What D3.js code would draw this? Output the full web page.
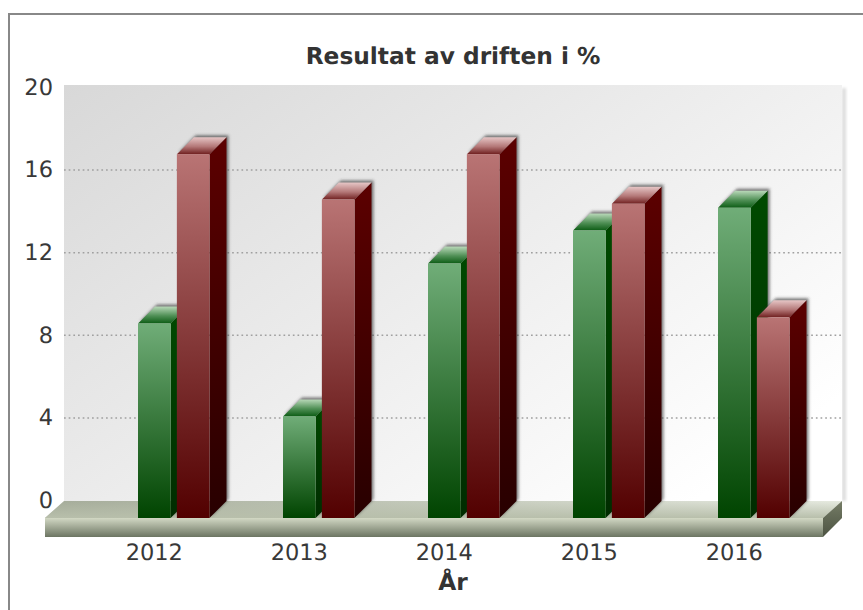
<!DOCTYPE html>
<html>
<head>
<meta charset="utf-8">
<script src="https://cdn.jsdelivr.net/npm/d3@7"></script>
<style>
html, body { margin: 0; padding: 0; background: #fff; }
svg { display: block; font-family: "DejaVu Sans", sans-serif; text-rendering: geometricPrecision; }
</style>
</head>
<body>
<div id="chart"></div>
<script>
const years = ["2012", "2013", "2014", "2015", "2016"];
const seriesNames = ["green", "red"];
const greenValues = [9.42, 4.92, 12.32, 13.92, 15.02];
const redValues = [17.62, 15.42, 17.62, 15.22, 9.72];
const yTicks = [0, 4, 8, 12, 16, 20];

const width = 863, height = 610;
const depth = 17;
const floorDrop = 18;

const svg = d3.select("#chart").append("svg")
    .attr("width", width)
    .attr("height", height);
const defs = svg.append("defs");

function gradient(id, stops, x2 = 0, y2 = 1) {
    const g = defs.append("linearGradient").attr("id", id)
        .attr("x1", 0).attr("y1", 0).attr("x2", x2).attr("y2", y2);
    stops.forEach(s => g.append("stop").attr("offset", s[0]).attr("stop-color", s[1]));
}
gradient("wall", [[0, "#d8d8d8"], [1, "#ffffff"]], 1, 0.75);
gradient("floor", [[0, "#a4ab99"], [1, "#e6eae0"]], 1, 0);
gradient("slab", [[0, "#d2d8c4"], [1, "#6c7562"]]);
gradient("slabSide", [[0, "#757c66"], [1, "#4c5342"]]);
gradient("greenFront", [[0, "#70ad78"], [1, "#004400"]]);
gradient("greenSide", [[0, "#004a00"], [1, "#002c00"]]);
gradient("greenTop", [[0, "#b8d8b8"], [0.55, "#4f8f55"], [1, "#0c5c14"]]);
gradient("redFront", [[0, "#b97474"], [1, "#520000"]]);
gradient("redSide", [[0, "#5c0000"], [1, "#280000"]]);
gradient("redTop", [[0, "#e6c6c6"], [0.55, "#b47878"], [1, "#702020"]]);

// floor fades to one colour towards the slab
const floorFade = defs.append("linearGradient").attr("id", "floorFade")
    .attr("x1", 0).attr("y1", 0).attr("x2", 0).attr("y2", 1);
floorFade.append("stop").attr("offset", 0).attr("stop-color", "#b8bfab").attr("stop-opacity", 0);
floorFade.append("stop").attr("offset", 1).attr("stop-color", "#b8bfab").attr("stop-opacity", 1);

defs.append("filter").attr("id", "blur")
    .attr("x", "-30%").attr("y", "-10%").attr("width", "160%").attr("height", "120%")
    .append("feGaussianBlur").attr("stdDeviation", 1.6);

// outer frame, runs off the right and bottom of the window
svg.append("rect")
    .attr("x", 9).attr("y", 14)
    .attr("width", 900).attr("height", 700)
    .attr("fill", "#fff").attr("stroke", "#888").attr("stroke-width", 2);

const y = d3.scaleLinear().domain([0, 20]).range([500, 87]);
const x = d3.scaleBand().domain(years).range([82.5, 807.5]).padding(0);
const xSeries = d3.scaleBand().domain(seriesNames).range([-17, 54.5]).paddingInner(0.16);

const wallLeft = 64, wallRight = 842, wallTop = 85;
const floorBack = y(0) + 1, floorFront = y(0) + floorDrop, slabBottom = floorFront + 19;
const slabLeft = wallLeft - 19, slabRight = wallRight - 19;

// wall
svg.append("rect")
    .attr("x", wallRight).attr("y", wallTop + 3)
    .attr("width", 4).attr("height", floorBack - wallTop - 3)
    .attr("fill", "#dcdcdc").attr("filter", "url(#blur)");
svg.append("rect")
    .attr("x", wallLeft).attr("y", wallTop)
    .attr("width", wallRight - wallLeft).attr("height", floorBack - wallTop)
    .attr("fill", "url(#wall)");

// grid lines
svg.append("g")
    .attr("transform", `translate(${wallLeft},0)`)
    .call(d3.axisRight(y).tickValues(yTicks.filter(d => d > 0 && d < 20))
        .tickSize(wallRight - wallLeft).tickFormat(""))
    .call(g => g.select(".domain").remove())
    .selectAll("line")
    .attr("stroke", "#a0a0a0").attr("stroke-width", 1.5).attr("stroke-dasharray", "1.7,2.97");

// floor
const floorPath = `M${wallLeft},${floorBack}L${wallRight},${floorBack}L${slabRight},${floorFront}L${slabLeft},${floorFront}Z`;
svg.append("path").attr("d", floorPath).attr("fill", "url(#floor)");
svg.append("path").attr("d", floorPath).attr("fill", "url(#floorFade)");
svg.append("rect")
    .attr("x", slabLeft).attr("y", floorFront)
    .attr("width", slabRight - slabLeft).attr("height", slabBottom - floorFront)
    .attr("fill", "url(#slab)");
svg.append("path")
    .attr("d", `M${slabRight},${floorFront}L${wallRight},${floorBack}L${wallRight},${slabBottom - 19}L${slabRight},${slabBottom}Z`)
    .attr("fill", "url(#slabSide)");

// bars
function drawBars(name, values) {
    const bw = xSeries.bandwidth();
    const bars = svg.append("g").selectAll("g")
        .data(values.map((v, i) => ({ year: years[i], value: v })))
        .join("g")
        .attr("transform", d => `translate(${x(d.year) + x.bandwidth() / 2 + xSeries(name)},0)`);

    bars.append("path")
        .attr("d", d => {
            const t = y(d.value) + floorDrop;
            return `M0,${t}L${depth},${t - depth}L${bw + depth},${t - depth}L${bw + depth},${floorBack}L${bw},${floorFront}L${bw},${t}Z`;
        })
        .attr("transform", "translate(2,-2)")
        .attr("fill", "#333").attr("fill-opacity", 0.65)
        .attr("filter", "url(#blur)");

    bars.append("path")
        .attr("d", d => {
            const t = y(d.value) + floorDrop;
            return `M${bw},${t}L${bw + depth},${t - depth}L${bw + depth},${floorBack}L${bw},${floorFront}Z`;
        })
        .attr("fill", `url(#${name}Side)`);

    bars.append("path")
        .attr("d", d => {
            const t = y(d.value) + floorDrop;
            return `M0,${t}L${depth},${t - depth}L${bw + depth},${t - depth}L${bw},${t}Z`;
        })
        .attr("fill", `url(#${name}Top)`);

    bars.append("rect")
        .attr("x", 0)
        .attr("y", d => y(d.value) + floorDrop)
        .attr("width", bw)
        .attr("height", d => y(0) - y(d.value))
        .attr("fill", `url(#${name}Front)`);
}
drawBars("green", greenValues);
drawBars("red", redValues);

// axes
svg.append("g")
    .attr("transform", "translate(53,0)")
    .call(d3.axisLeft(y).tickValues(yTicks).tickSize(0).tickPadding(0).tickFormat(d3.format("d")))
    .call(g => g.select(".domain").remove())
    .selectAll("text")
    .attr("font-family", "DejaVu Sans").attr("font-size", 22.5).attr("fill", "#383838");

svg.append("g")
    .attr("transform", `translate(-0.7,${slabBottom})`)
    .call(d3.axisBottom(x).tickSize(0).tickPadding(7))
    .call(g => g.select(".domain").remove())
    .selectAll("text")
    .attr("font-family", "DejaVu Sans").attr("font-size", 22.5).attr("fill", "#383838");

svg.append("text")
    .attr("x", 453).attr("y", 64)
    .attr("text-anchor", "middle")
    .attr("font-size", 23.3).attr("font-weight", "bold").attr("fill", "#333")
    .text("Resultat av driften i %");

svg.append("text")
    .attr("x", 453).attr("y", 590)
    .attr("text-anchor", "middle")
    .attr("font-size", 23.3).attr("font-weight", "bold").attr("fill", "#333")
    .text("År");
</script>
</body>
</html>
